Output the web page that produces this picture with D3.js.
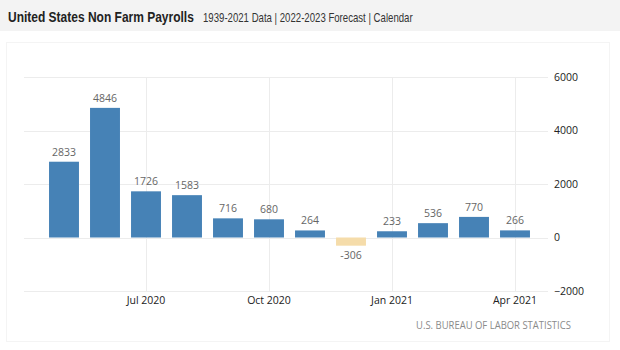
<!DOCTYPE html>
<html><head><meta charset="utf-8">
<script src="https://cdn.jsdelivr.net/npm/d3@7"></script>
<style>
html,body{margin:0;padding:0;background:#fff;}
svg{display:block;}
</style></head>
<body>
<script>
const months = ["May 2020","Jun 2020","Jul 2020","Aug 2020","Sep 2020","Oct 2020","Nov 2020","Dec 2020","Jan 2021","Feb 2021","Mar 2021","Apr 2021"];
const values = [2833, 4846, 1726, 1583, 716, 680, 264, -306, 233, 536, 770, 266];
const xTickLabels = ["Jul 2020","Oct 2020","Jan 2021","Apr 2021"];
const yTicks = [-2000, 0, 2000, 4000, 6000];
const titleText = "United States Non Farm Payrolls";
const subtitleText = "1939-2021 Data | 2022-2023 Forecast | Calendar";
const sourceText = "U.S. BUREAU OF LABOR STATISTICS";

const W = 620, H = 350;
const svg = d3.select("body").append("svg").attr("width", W).attr("height", H);

// fit a text horizontally to a target width by scaling
function fitText(sel, x0, yb, target, anchor) {
  const g = svg.append("g");
  const t = g.append("text").attr("x",0).attr("y",0).call(sel);
  const w = t.node().getComputedTextLength();
  const k = target / w;
  const tx = anchor === "end" ? x0 - target : x0;
  g.attr("transform", `translate(${tx},${yb}) scale(${k},1)`);
  return g;
}

// header band
svg.append("rect").attr("x",0).attr("y",0).attr("width",W).attr("height",31).attr("fill","#f3f3f3");
fitText(t => t.attr("font-family","Liberation Sans, Arial, sans-serif").attr("font-weight","bold")
  .attr("font-size",14.5).attr("fill","#222").text(titleText), 8, 21.5, 186);
fitText(t => t.attr("font-family","Liberation Sans, Arial, sans-serif")
  .attr("font-size",12).attr("fill","#333").text(subtitleText), 203, 21.5, 210);

// panel
svg.append("rect").attr("x",6.5).attr("y",42.5).attr("width",603).attr("height",299)
  .attr("fill","none").attr("stroke","#f4f4f4");

const x = d3.scaleBand().domain(months).range([43.5, 535.5]).paddingInner(0.27).paddingOuter(0.135);
const y = d3.scaleLinear().domain([-2000, 6000]).range([291, 77]);

// gridlines
svg.append("g").selectAll("line").data(yTicks).join("line")
  .attr("x1",24).attr("x2",548).attr("y1",d=>Math.round(y(d))+0.5).attr("y2",d=>Math.round(y(d))+0.5)
  .attr("stroke","#ececec").attr("stroke-width",1);
svg.append("g").selectAll("line").data(xTickLabels).join("line")
  .attr("x1",d=>Math.round(x(d)+x.bandwidth()/2)+0.5).attr("x2",d=>Math.round(x(d)+x.bandwidth()/2)+0.5)
  .attr("y1",y(6000)).attr("y2",y(-2000))
  .attr("stroke","#ececec").attr("stroke-width",1);

// bars
svg.append("g").selectAll("rect").data(values).join("rect")
  .attr("x",(d,i)=>x(months[i])).attr("width",x.bandwidth())
  .attr("y",d=>y(Math.max(0,d))).attr("height",d=>Math.abs(y(d)-y(0)))
  .attr("fill",d=>d<0?"#f5dcaa":"#4682b6");

// value labels
svg.append("g").selectAll("text").data(values).join("text")
  .attr("x",(d,i)=>x(months[i])+x.bandwidth()/2)
  .attr("y",d=>d<0? y(d)+13 : y(d)-6)
  .attr("text-anchor","middle")
  .attr("font-family","Open Sans, sans-serif").attr("font-size",10.5).attr("fill","#666")
  .text(d=>d);

// y axis
const yAxis = svg.append("g").attr("transform","translate(554,0)")
  .call(d3.axisRight(y).tickValues(yTicks).tickSize(0).tickPadding(0).tickFormat(d3.format("d")));
yAxis.select(".domain").remove();
yAxis.selectAll("text").attr("font-family","Open Sans, sans-serif").attr("font-size",10.5).attr("fill","#222");

// x axis
const xAxis = svg.append("g").attr("transform","translate(0,291)")
  .call(d3.axisBottom(x).tickValues(xTickLabels).tickSize(0).tickPadding(5.5));
xAxis.select(".domain").remove();
xAxis.selectAll("text").attr("font-family","Open Sans, sans-serif").attr("font-size",10.5).attr("fill","#222");

// source
fitText(t => t.attr("font-family","Open Sans, sans-serif").attr("font-size",10).attr("fill","#8a8a8a")
  .text(sourceText), 571, 329, 155, "end");
</script>
</body></html>
